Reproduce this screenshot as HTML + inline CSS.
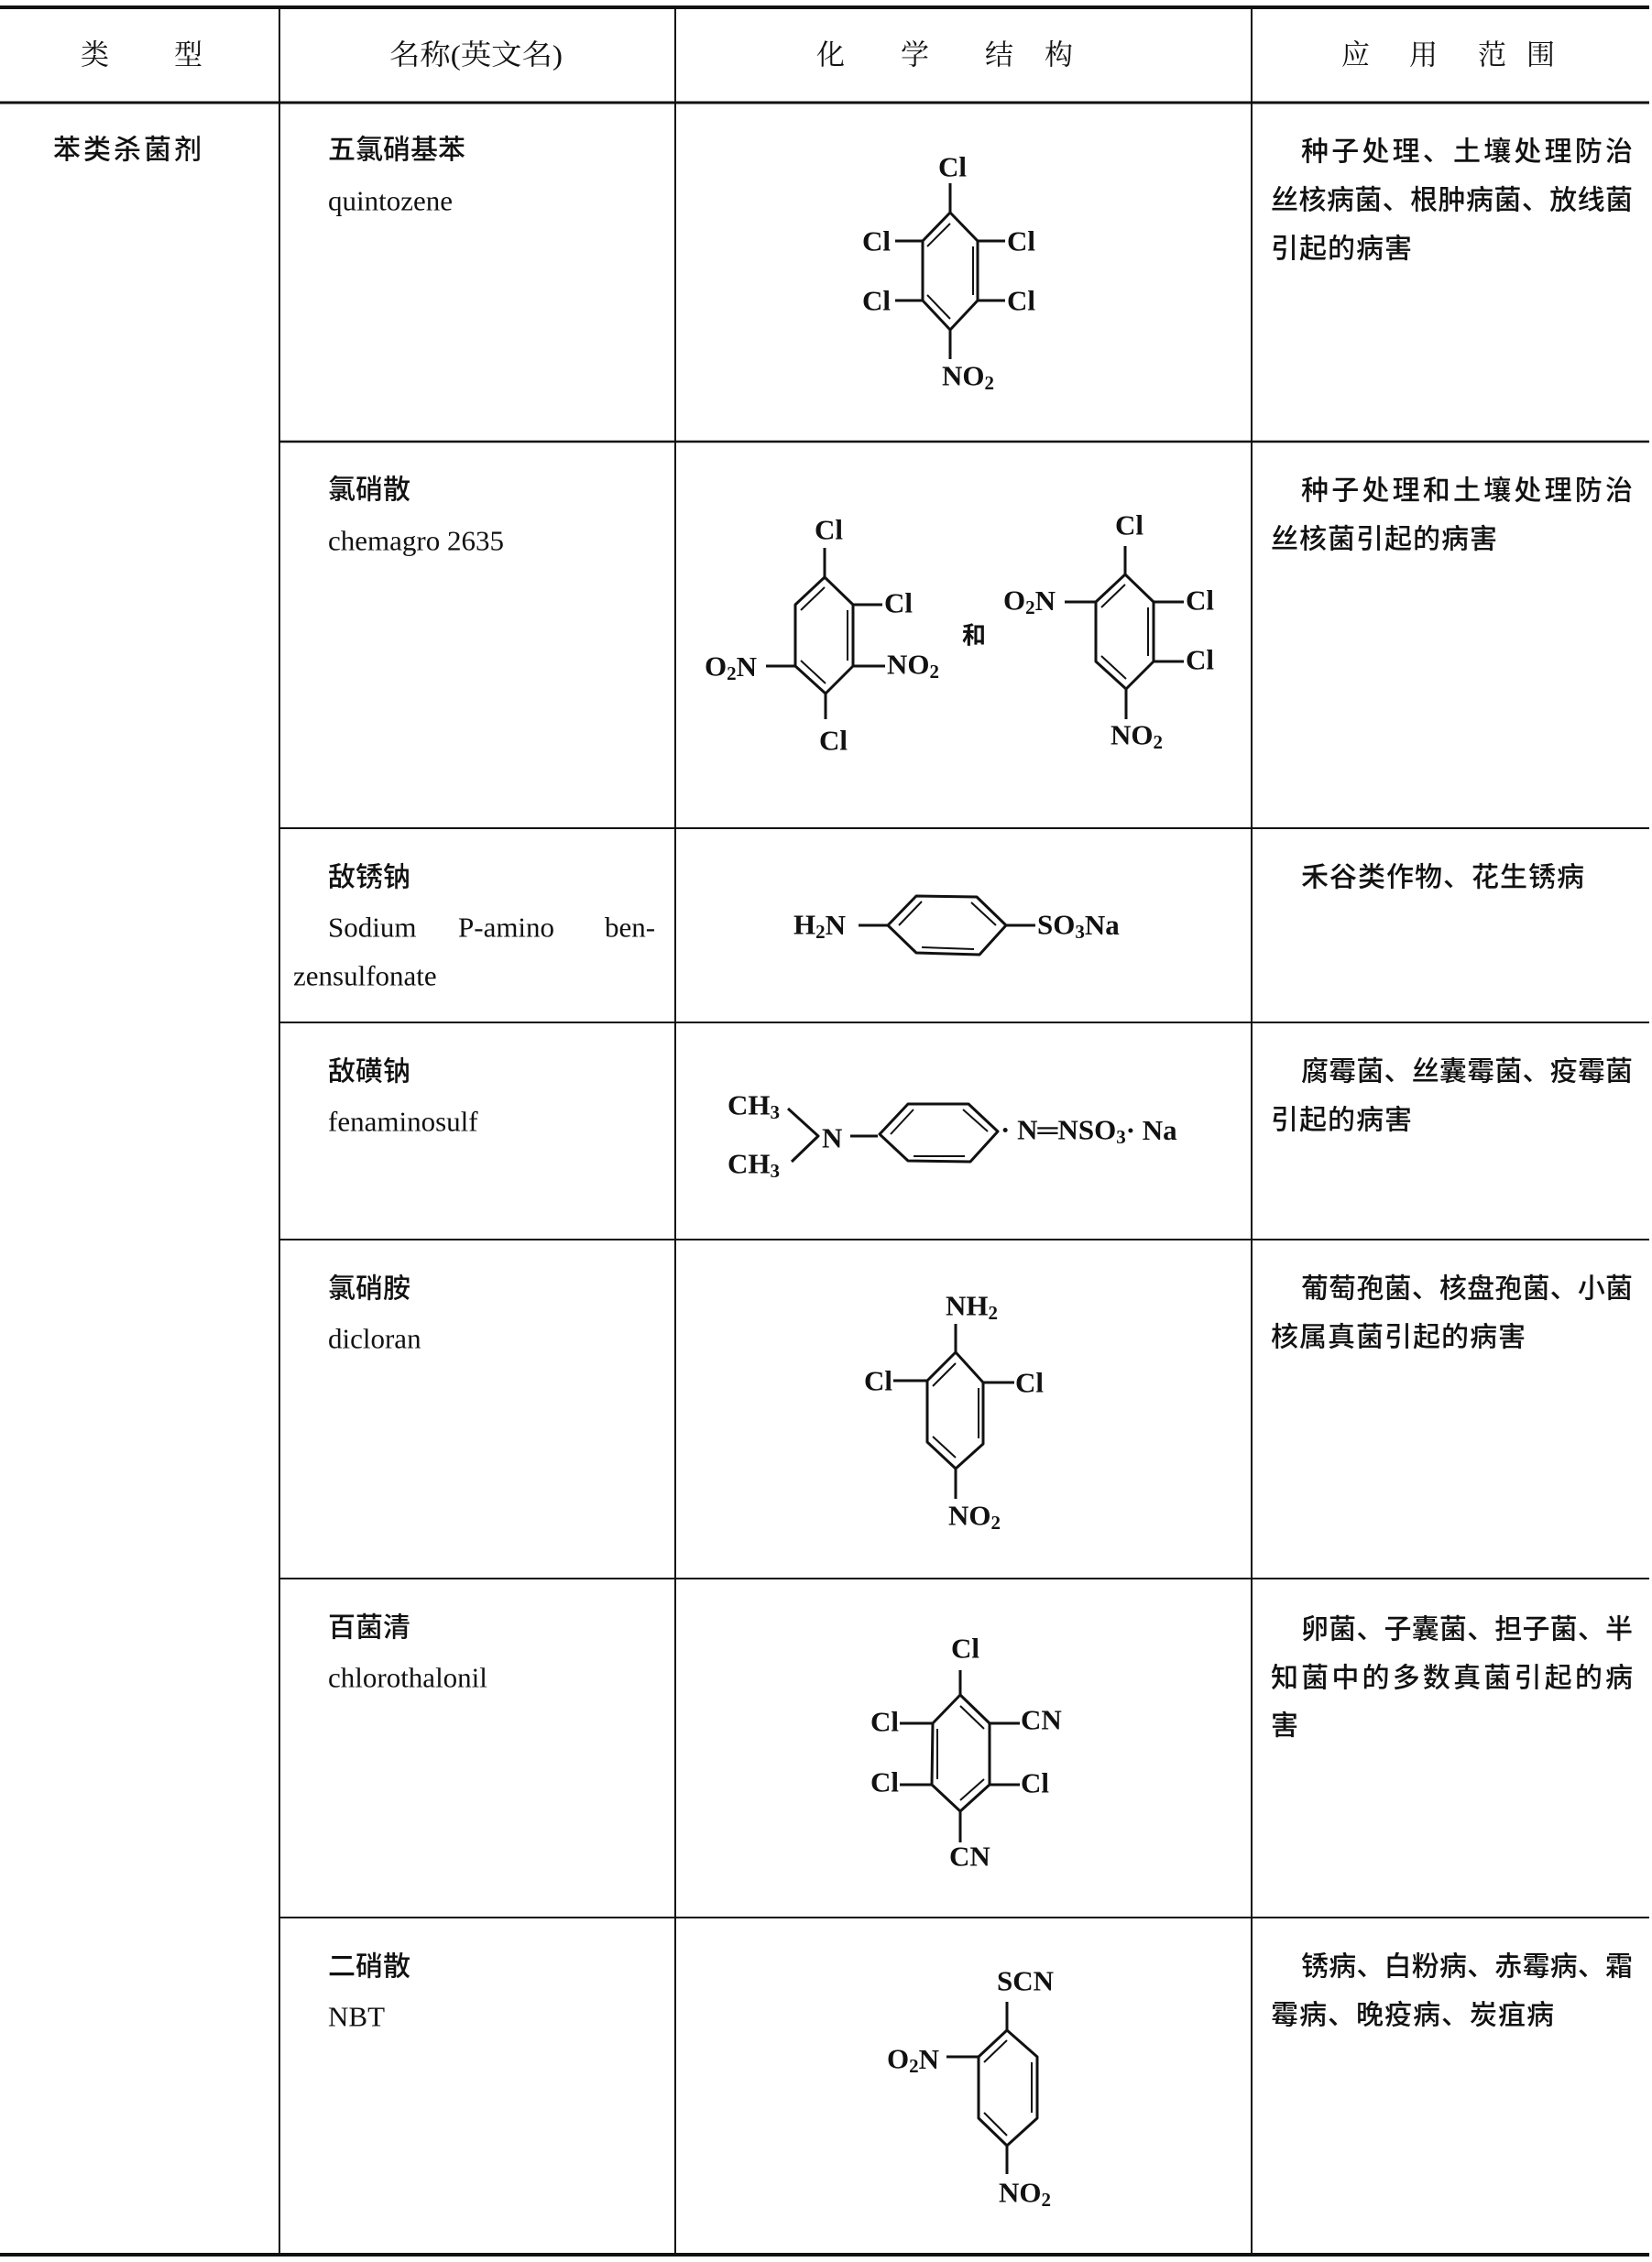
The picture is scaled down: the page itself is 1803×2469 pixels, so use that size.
<!DOCTYPE html>
<html><head><meta charset="utf-8">
<style>
html,body{margin:0;padding:0;background:#fff;}
svg{display:block;}
.cj{font-family:"Liberation Serif","Noto Sans CJK SC",sans-serif;font-size:30px;font-weight:500;fill:#111;}
.hd{font-family:"Liberation Serif","Noto Serif CJK SC",serif;font-size:31px;fill:#111;}
.en{font-family:"Liberation Serif",serif;font-size:31px;fill:#111;}
.ch{font-family:"Liberation Serif",serif;font-size:31px;font-weight:bold;fill:#111;}
.sb{font-size:21px;}
</style></head>
<body>
<svg width="1803" height="2469" viewBox="0 0 1803 2469" xmlns="http://www.w3.org/2000/svg">
<g stroke="#111" fill="none">
<line x1="0" y1="8" x2="1800" y2="8" stroke-width="4"/>
<line x1="0" y1="112" x2="1800" y2="112" stroke-width="3"/>
<line x1="0" y1="2461" x2="1800" y2="2461" stroke-width="4"/>
<line x1="305" y1="8" x2="305" y2="2461" stroke-width="2"/>
<line x1="737" y1="8" x2="737" y2="2461" stroke-width="2"/>
<line x1="1366" y1="8" x2="1366" y2="2461" stroke-width="2"/>
<line x1="305" y1="482" x2="1800" y2="482" stroke-width="2.5"/>
<line x1="305" y1="904" x2="1800" y2="904" stroke-width="2"/>
<line x1="305" y1="1116" x2="1800" y2="1116" stroke-width="2"/>
<line x1="305" y1="1353" x2="1800" y2="1353" stroke-width="2"/>
<line x1="305" y1="1723" x2="1800" y2="1723" stroke-width="2"/>
<line x1="305" y1="2093" x2="1800" y2="2093" stroke-width="2"/>
</g>

<g dominant-baseline="central">
<text class="hd" x="88" y="60">类</text><text class="hd" x="190" y="60">型</text>
<text class="hd" x="425" y="60" textLength="189" lengthAdjust="spacingAndGlyphs">名称(英文名)</text>
<text class="hd" x="891" y="60">化</text><text class="hd" x="983" y="60">学</text><text class="hd" x="1075" y="60">结</text><text class="hd" x="1140" y="60">构</text>
<text class="hd" x="1464" y="60">应</text><text class="hd" x="1538" y="60">用</text><text class="hd" x="1613" y="60">范</text><text class="hd" x="1666" y="60">围</text>

<text class="cj" x="58" y="164" textLength="162" lengthAdjust="spacing">苯类杀菌剂</text>

<text class="cj" x="358" y="164">五氯硝基苯</text>
<text class="en" x="358" y="219">quintozene</text>
<text class="cj" x="358" y="535">氯硝散</text>
<text class="en" x="358" y="590">chemagro 2635</text>
<text class="cj" x="358" y="958">敌锈钠</text>
<text class="en" x="358" y="1012">Sodium</text>
<text class="en" x="500" y="1012">P-amino</text>
<text class="en" x="660" y="1012">ben-</text>
<text class="en" x="320" y="1065">zensulfonate</text>
<text class="cj" x="358" y="1170">敌磺钠</text>
<text class="en" x="358" y="1224">fenaminosulf</text>
<text class="cj" x="358" y="1407">氯硝胺</text>
<text class="en" x="358" y="1461">dicloran</text>
<text class="cj" x="358" y="1777">百菌清</text>
<text class="en" x="358" y="1831">chlorothalonil</text>
<text class="cj" x="358" y="2147">二硝散</text>
<text class="en" x="358" y="2201">NBT</text>

<text class="cj" x="1420" y="166" textLength="362" lengthAdjust="spacing">种子处理、土壤处理防治</text>
<text class="cj" x="1387" y="219" textLength="395" lengthAdjust="spacing">丝核病菌、根肿病菌、放线菌</text>
<text class="cj" x="1387" y="272" letter-spacing="1">引起的病害</text>
<text class="cj" x="1420" y="536" textLength="362" lengthAdjust="spacing">种子处理和土壤处理防治</text>
<text class="cj" x="1387" y="589" letter-spacing="1">丝核菌引起的病害</text>
<text class="cj" x="1420" y="958" letter-spacing="1">禾谷类作物、花生锈病</text>
<text class="cj" x="1420" y="1170" textLength="362" lengthAdjust="spacing">腐霉菌、丝囊霉菌、疫霉菌</text>
<text class="cj" x="1387" y="1223" letter-spacing="1">引起的病害</text>
<text class="cj" x="1420" y="1407" textLength="362" lengthAdjust="spacing">葡萄孢菌、核盘孢菌、小菌</text>
<text class="cj" x="1387" y="1460" letter-spacing="1">核属真菌引起的病害</text>
<text class="cj" x="1420" y="1779" textLength="362" lengthAdjust="spacing">卵菌、子囊菌、担子菌、半</text>
<text class="cj" x="1387" y="1832" textLength="395" lengthAdjust="spacing">知菌中的多数真菌引起的病</text>
<text class="cj" x="1387" y="1884">害</text>
<text class="cj" x="1420" y="2147" textLength="362" lengthAdjust="spacing">锈病、白粉病、赤霉病、霜</text>
<text class="cj" x="1387" y="2200" letter-spacing="1">霉病、晚疫病、炭疽病</text>
</g>

<g stroke="#111" stroke-width="3" fill="none" stroke-linejoin="round">
<!-- 1 -->
<polygon points="1037,232 1067,263 1067,328 1037,360 1007,328 1007,263"/>
<line x1="1037" y1="244" x2="1012" y2="269" stroke-width="2"/><line x1="1062" y1="269" x2="1062" y2="322" stroke-width="2"/><line x1="1037" y1="348" x2="1012" y2="322" stroke-width="2"/>
<line x1="1037" y1="200" x2="1037" y2="232"/><line x1="1037" y1="360" x2="1037" y2="392"/>
<line x1="977" y1="263" x2="1007" y2="263"/><line x1="977" y1="328" x2="1007" y2="328"/>
<line x1="1067" y1="263" x2="1097" y2="263"/><line x1="1067" y1="328" x2="1097" y2="328"/>
<!-- 2L -->
<polygon points="900,630 931,660 931,727 901,757 868,727 868,660"/>
<line x1="900" y1="641" x2="874" y2="666" stroke-width="2"/><line x1="925" y1="666" x2="925" y2="721" stroke-width="2"/><line x1="901" y1="746" x2="874" y2="721" stroke-width="2"/>
<line x1="900" y1="598" x2="900" y2="630"/><line x1="901" y1="757" x2="901" y2="785"/>
<line x1="931" y1="660" x2="963" y2="660"/><line x1="931" y1="727" x2="966" y2="727"/><line x1="836" y1="727" x2="868" y2="727"/>
<!-- 2R -->
<polygon points="1228,627 1259,657 1259,722 1229,752 1196,722 1196,657"/>
<line x1="1228" y1="638" x2="1202" y2="663" stroke-width="2"/><line x1="1253" y1="663" x2="1253" y2="716" stroke-width="2"/><line x1="1229" y1="741" x2="1202" y2="716" stroke-width="2"/>
<line x1="1228" y1="596" x2="1228" y2="627"/><line x1="1229" y1="752" x2="1229" y2="785"/>
<line x1="1162" y1="657" x2="1196" y2="657"/><line x1="1259" y1="657" x2="1292" y2="657"/><line x1="1259" y1="722" x2="1292" y2="722"/>
<!-- 3 -->
<polygon points="969,1010 1000,978 1066,979 1098,1010 1069,1042 1000,1040"/>
<line x1="981" y1="1010" x2="1006" y2="984" stroke-width="2"/><line x1="1060" y1="985" x2="1087" y2="1010" stroke-width="2"/><line x1="1063" y1="1036" x2="1006" y2="1034" stroke-width="2"/>
<line x1="937" y1="1010" x2="969" y2="1010"/><line x1="1098" y1="1010" x2="1130" y2="1010"/>
<!-- 4 -->
<polygon points="960,1238 991,1205 1057,1205 1089,1235 1059,1268 991,1267"/>
<line x1="972" y1="1238" x2="997" y2="1211" stroke-width="2"/><line x1="1051" y1="1211" x2="1078" y2="1235" stroke-width="2"/><line x1="1053" y1="1262" x2="997" y2="1262" stroke-width="2"/>
<line x1="928" y1="1240" x2="958" y2="1240"/>
<polyline points="860,1210 893,1240 864,1268"/>
<!-- 5 -->
<polygon points="1043,1476 1073,1509 1073,1576 1043,1603 1012,1574 1012,1507"/>
<line x1="1043" y1="1488" x2="1018" y2="1513" stroke-width="2"/><line x1="1068" y1="1515" x2="1068" y2="1570" stroke-width="2"/><line x1="1043" y1="1591" x2="1018" y2="1568" stroke-width="2"/>
<line x1="1043" y1="1445" x2="1043" y2="1476"/><line x1="1043" y1="1603" x2="1043" y2="1636"/>
<line x1="975" y1="1507" x2="1012" y2="1507"/><line x1="1073" y1="1509" x2="1107" y2="1509"/>
<!-- 6 -->
<polygon points="1048,1850 1080,1881 1080,1948 1048,1977 1017,1948 1018,1881"/>
<line x1="1048" y1="1862" x2="1074" y2="1887" stroke-width="2"/><line x1="1023" y1="1887" x2="1023" y2="1942" stroke-width="2"/><line x1="1074" y1="1942" x2="1048" y2="1965" stroke-width="2"/>
<line x1="1048" y1="1823" x2="1048" y2="1850"/><line x1="1048" y1="1977" x2="1048" y2="2011"/>
<line x1="982" y1="1881" x2="1018" y2="1881"/><line x1="982" y1="1948" x2="1017" y2="1948"/>
<line x1="1080" y1="1881" x2="1113" y2="1881"/><line x1="1080" y1="1948" x2="1113" y2="1948"/>
<!-- 7 -->
<polygon points="1099,2216 1132,2245 1132,2312 1099,2342 1068,2312 1068,2245"/>
<line x1="1099" y1="2227" x2="1074" y2="2251" stroke-width="2"/><line x1="1126" y1="2251" x2="1126" y2="2306" stroke-width="2"/><line x1="1099" y1="2331" x2="1074" y2="2306" stroke-width="2"/>
<line x1="1099" y1="2185" x2="1099" y2="2216"/><line x1="1099" y1="2342" x2="1099" y2="2373"/>
<line x1="1033" y1="2245" x2="1068" y2="2245"/>
</g>

<g class="ch" dominant-baseline="central">
<text x="1024" y="182">Cl</text>
<text x="941" y="263">Cl</text><text x="1099" y="263">Cl</text>
<text x="941" y="328">Cl</text><text x="1099" y="328">Cl</text>
<text x="1028" y="410">NO<tspan class="sb" dy="8">2</tspan></text>

<text x="889" y="578">Cl</text>
<text x="965" y="658">Cl</text>
<text x="968" y="725">NO<tspan class="sb" dy="8">2</tspan></text>
<text x="769" y="727">O<tspan class="sb" dy="8">2</tspan><tspan dy="-8">N</tspan></text>
<text x="894" y="808">Cl</text>
<text x="1050" y="692" style="font-family:'Noto Sans CJK SC',sans-serif;font-size:26px">和</text>

<text x="1217" y="573">Cl</text>
<text x="1095" y="655">O<tspan class="sb" dy="8">2</tspan><tspan dy="-8">N</tspan></text>
<text x="1294" y="655">Cl</text><text x="1294" y="720">Cl</text>
<text x="1212" y="802">NO<tspan class="sb" dy="8">2</tspan></text>

<text x="866" y="1009">H<tspan class="sb" dy="8">2</tspan><tspan dy="-8">N</tspan></text>
<text x="1132" y="1009">SO<tspan class="sb" dy="8">3</tspan><tspan dy="-8">Na</tspan></text>

<text x="794" y="1206">CH<tspan class="sb" dy="8">3</tspan></text>
<text x="794" y="1270">CH<tspan class="sb" dy="8">3</tspan></text>
<text x="897" y="1242">N</text>
<text x="1092" y="1233">· N═NSO<tspan class="sb" dy="8">3</tspan><tspan dy="-8">· Na</tspan></text>

<text x="1032" y="1425">NH<tspan class="sb" dy="8">2</tspan></text>
<text x="943" y="1507">Cl</text><text x="1108" y="1509">Cl</text>
<text x="1035" y="1654">NO<tspan class="sb" dy="8">2</tspan></text>

<text x="1038" y="1799">Cl</text>
<text x="950" y="1879">Cl</text><text x="950" y="1945">Cl</text>
<text x="1114" y="1877">CN</text><text x="1114" y="1946">Cl</text>
<text x="1036" y="2026">CN</text>

<text x="1088" y="2162">SCN</text>
<text x="968" y="2247">O<tspan class="sb" dy="8">2</tspan><tspan dy="-8">N</tspan></text>
<text x="1090" y="2393">NO<tspan class="sb" dy="8">2</tspan></text>
</g>
</svg>
</body></html>
